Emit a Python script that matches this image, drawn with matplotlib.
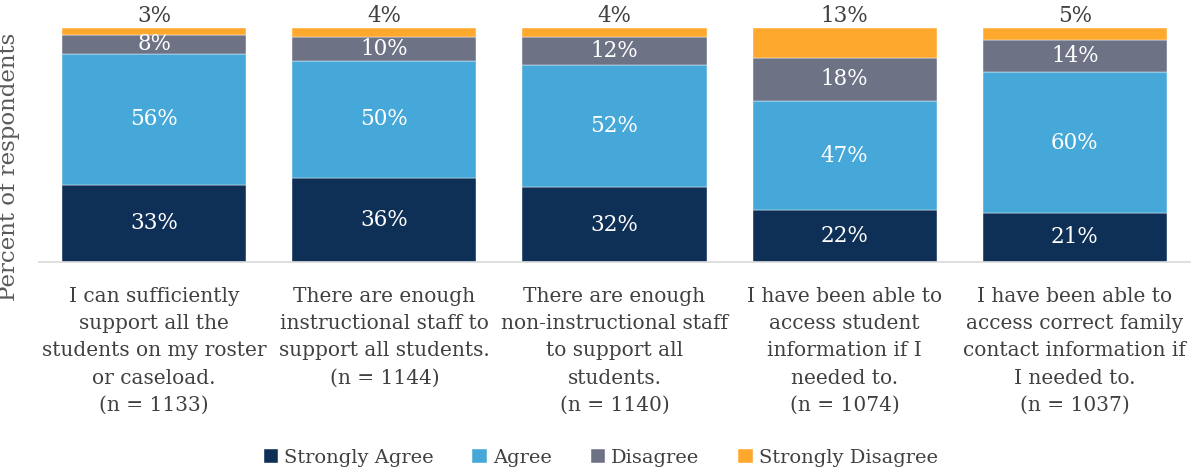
import matplotlib.pyplot as plt
import numpy as np

# survey data (percent of respondents)
categories = [
    "I can sufficiently\nsupport all the\nstudents on my roster\nor caseload.\n(n = 1133)",
    "There are enough\ninstructional staff to\nsupport all students.\n(n = 1144)",
    "There are enough\nnon-instructional staff\nto support all\nstudents.\n(n = 1140)",
    "I have been able to\naccess student\ninformation if I\nneeded to.\n(n = 1074)",
    "I have been able to\naccess correct family\ncontact information if\nI needed to.\n(n = 1037)",
]
series_names = ["Strongly Agree", "Agree", "Disagree", "Strongly Disagree"]
strongly_agree = [33, 36, 32, 22, 21]
agree = [56, 50, 52, 47, 60]
disagree = [8, 10, 12, 18, 14]
strongly_disagree = [3, 4, 4, 13, 5]

colors = ["#0E2F56", "#46A8D8", "#6D7285", "#FFA82E"]
txt_gray = "#404040"

plt.rcParams['font.family'] = ['DejaVu Serif']

fig = plt.figure(figsize=(11.94, 4.72), dpi=100)
ax = fig.add_axes([0.0327, 0.445, 0.9639, 0.4957])

x = np.arange(len(categories))
bottom = np.zeros(len(categories))
all_series = [strongly_agree, agree, disagree, strongly_disagree]
for i, (name, vals) in enumerate(zip(series_names, all_series)):
    vals = np.array(vals)
    ax.bar(x, vals, 0.8, bottom=bottom, color=colors[i], label=name,
           edgecolor="white", linewidth=0.3)
    for xi, b, v in zip(x, bottom, vals):
        if i < 3:
            ax.text(xi, b + v / 2, f"{v}%", ha="center", va="center",
                    color="white", fontsize=15.5)
        else:
            ax.text(xi, 100.3, f"{v}%", ha="center", va="bottom",
                    color=txt_gray, fontsize=15.5)
    bottom += vals

ax.set_xlim(-0.5, len(categories) - 0.5)
ax.set_ylim(0, 100)
ax.set_yticks([])
ax.set_xticks(x)
ax.set_xticklabels(categories, fontsize=14.5, color=txt_gray, linespacing=1.55)
ax.tick_params(axis="x", length=0, pad=18)
for s in ["top", "right", "left"]:
    ax.spines[s].set_visible(False)
ax.spines["bottom"].set_color("#D9D9D9")
ax.spines["bottom"].set_linewidth(1.2)

ax.set_ylabel("Percent of respondents", fontsize=16.5, color="#595959")
ax.yaxis.set_label_coords(-0.0165, 0.406)

fig.legend(loc="center", bbox_to_anchor=(0.503, 0.03), ncol=4, frameon=False,
           fontsize=14, handlelength=0.75, handleheight=0.75, handletextpad=0.3,
           columnspacing=2.0, labelcolor=txt_gray)

fig.savefig("out.png", dpi=100)
